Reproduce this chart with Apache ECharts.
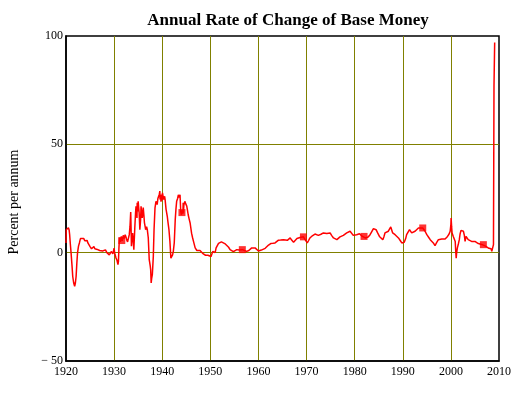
<!DOCTYPE html>
<html>
<head>
<meta charset="utf-8">
<script src="https://cdn.jsdelivr.net/npm/echarts@6/dist/echarts.min.js"></script>
<style>
html,body{margin:0;padding:0;background:#fff;}
#c{width:524px;height:395px;}
</style>
</head>
<body>
<div id="c"></div>
<script>
var title = 'Annual Rate of Change of Base Money';
var yName = 'Percent per annum';
var xTicks = [1920,1930,1940,1950,1960,1970,1980,1990,2000,2010];
var yTickValues = [-50, 0, 50, 100];
var yTickLabels = ['\u2212 50', '0', '50', '100'];

var years = [
1920.00,1920.05,1920.3,1920.5,1920.65,1920.75,1920.9,1921.05,1921.25,1921.4,1921.6,1921.8,1921.95,1922.1,1922.25,1922.4,1922.6,1922.8,
1923.0,1923.2,1923.4,1923.7,1923.9,1924.0,1924.2,1924.4,1924.55,1924.7,1925.0,1925.3,1925.5,1925.8,1926.0,1926.2,1926.5,1926.8,
1927.0,1927.3,1927.6,1927.8,1928.0,1928.2,1928.5,1928.8,1929.0,1929.2,1929.4,1929.6,1929.75,1929.9,1930.0,1930.1,1930.2,1930.4,
1930.6,1930.8,1930.9,1931.0,1931.1,1931.3,1931.5,1931.7,1931.9,1932.1,1932.3,1932.5,1932.6,1932.8,1932.95,1933.15,1933.3,1933.45,
1933.55,1933.6,1933.85,1934.0,1934.1,1934.3,1934.45,1934.55,1934.62,1934.7,1934.75,1934.8,1934.9,1935.0,1935.1,1935.2,1935.35,1935.5,1935.6,1935.75,1935.85,
1936.05,1936.2,1936.3,1936.45,1936.55,1936.75,1936.9,1937.1,1937.3,1937.5,1937.6,1937.7,1937.8,1937.95,1938.15,1938.3,1938.5,1938.7,
1938.95,1939.1,1939.25,1939.4,1939.5,1939.55,1939.65,1939.75,1939.85,1939.95,1940.05,1940.2,1940.3,1940.5,1940.6,1940.8,1941.05,1941.2,1941.4,1941.6,1941.8,
1942.0,1942.15,1942.3,1942.5,1942.7,1942.85,1943.0,1943.2,1943.35,1943.5,1943.7,1943.85,1944.0,1944.15,1944.3,1944.35,1944.4,1944.5,1944.7,1944.9,
1945.1,1945.25,1945.4,1945.6,1945.8,1946.1,1946.3,1946.5,1946.85,1947.2,1947.5,1947.85,1948.2,1948.55,1948.8,1949.0,1949.25,1949.5,
1949.7,1949.9,1950.15,1950.5,1950.7,1951.0,1951.2,1951.45,1951.7,1952.0,1952.3,1952.55,1953.0,1953.4,1953.8,1954.1,1954.5,1954.8,
1955.2,1955.5,1956.0,1956.65,1957.1,1957.55,1958.0,1958.25,1958.6,1958.95,1959.3,1959.6,1960.0,1960.3,1960.6,1961.0,1961.4,1961.7,
1962.1,1962.55,1963.0,1963.45,1963.8,1964.1,1964.6,1965.2,1965.6,1966.0,1966.3,1966.6,1966.9,1967.3,1967.6,1968.0,1968.3,1968.65,
1969.0,1969.35,1969.7,1970.15,1970.4,1970.7,1971.2,1971.75,1972.1,1972.45,1973.0,1973.5,1973.9,1974.2,1974.5,1974.9,1975.2,1975.6,
1976.0,1976.3,1976.6,1976.95,1977.3,1977.65,1978.0,1978.35,1978.7,1979.05,1979.4,1979.7,1980.0,1980.4,1980.7,1981.0,1981.3,1981.6,
1981.95,1982.2,1982.5,1982.8,1983.2,1983.5,1983.9,1984.2,1984.45,1984.8,1985.15,1985.5,1985.85,1986.1,1986.3,1986.7,1987.0,1987.3,
1987.5,1987.7,1987.9,1988.4,1988.7,1989.1,1989.5,1989.8,1990.3,1990.6,1990.8,1991.1,1991.4,1991.85,1992.2,1992.55,1992.9,1993.25,
1993.6,1994.15,1994.6,1995.0,1995.4,1995.7,1996.0,1996.35,1996.7,1997.0,1997.4,1997.8,1998.1,1998.5,1998.8,1999.3,1999.6,1999.85,
2000.0,2000.05,2000.15,2000.25,2000.5,2000.9,2001.0,2001.1,2001.2,2001.35,2001.55,2001.75,2001.9,2002.1,2002.3,2002.6,2002.8,2002.95,
2003.15,2003.35,2003.6,2003.9,2004.3,2004.6,2005.0,2005.3,2005.7,2006.0,2006.4,2006.75,2007.2,2007.6,2007.9,2008.15,2008.35,2008.5,
2008.7,2008.85,2008.96,2009.1
];
var values = [
4.5,10.6,11.2,11.5,10.5,8.5,4,0,-6,-11,-14,-15.5,-14,-11,-5,0,3,4.6,
6.5,7.4,7.0,6.5,5.5,4.6,4.8,5.6,4.5,3.7,2.8,1.8,2.3,2.8,1.8,1.0,1.5,1.8,
1.0,0.5,0.8,0.5,1.0,1.3,0,-0.5,-1.0,-1.4,0.5,1.4,-0.5,-1.0,2.1,0,-1,-2.5,
-3.5,-5.5,-4,2,6.8,5,7.5,5.5,8,6.5,8.3,7,6,5,4.6,8.3,12,18.8,
9,3,9,5,1.4,11.5,18,21.4,17,20,16,23,19,23.7,21,18.5,10.6,15,21.4,18,16,
20.8,17,13.9,12,10.6,12,10.6,6.9,-3.2,-6,-7.9,-14,-12,-10,-1.7,10.6,20.7,23.7,
22.2,25,24.5,27,28.4,24.5,26,23.5,26.8,24,27.6,26.7,24.5,26,24.5,20,16.8,14,10.6,5.2,-2.5,
-3,-1,0.5,4.5,15,20,23.7,25,26.7,25.5,26.7,19,17.5,19.5,18,23,18.5,22,23.7,22.5,
21.5,19.5,17.5,15.5,13.7,9,7,5.2,2.2,1,1.5,1.0,0.5,-0.6,-0.5,-1.2,-2,-1.2,
-1.5,-1.0,-1.8,0.6,0.3,0,2.2,2.9,4.3,5.2,5.0,4.5,4.2,3.7,2.5,1.4,0.8,0.5,
1.0,1.4,1.2,1.4,1.0,0.6,1.0,1.4,2.2,2.5,2.2,1.7,0.8,0.5,1.2,1.7,2.0,2.2,
3.5,4.2,4.3,4.5,5.2,5.7,5.8,6.0,5.8,5.7,6.3,6.8,5.8,4.8,5.5,6.5,6.8,7.0,
7.3,7.3,6.0,4.5,5.5,6.8,7.8,8.6,8.2,8.0,8.5,9.1,8.6,8.8,9.0,9.1,8.0,6.8,
6.5,6.0,6.8,7.3,7.6,8.0,8.6,9.1,9.5,9.9,9.0,8.0,8.2,8.3,8.5,8.7,8.0,7.5,
7.5,6.8,6.5,7.2,8.3,9.5,11.1,10.8,10.6,9.0,7.5,6.8,6.0,7.5,9.1,9.5,9.9,10.5,
11.9,10.5,9.1,8.3,7.5,6.8,5.5,4.5,4.8,6.5,8.3,9.5,10.6,9.1,9.5,9.9,10.5,11.4,
11.2,11.4,10.0,8.3,7.0,6.0,5.2,4.5,3.2,4.5,6.0,6.2,6.3,6.0,6.3,7.5,8.5,9.9,
13,16,12,9.1,7.5,5.2,1,-2.5,0,2.2,4,6,8.5,10.3,9.5,9.9,8,5.2,
7.5,6.8,6.0,5.8,5.2,5.5,5.2,4.8,4.2,4.0,3.8,3.7,3.0,2.2,2.0,1.4,1.8,0.6,
1.2,3.7,77,97
];
var markerYears = [1931.6, 1944.1, 1956.65, 1969.35, 1981.95, 1994.15, 2006.75];
var markerValues = [5.6, 18.5, 1.4, 7.3, 7.5, 11.4, 3.7];

var lineData = years.map(function (y, i) { return [y, values[i]]; });
var markerData = markerYears.map(function (y, i) { return [y, markerValues[i]]; });

var serif = '"Liberation Serif", "Times New Roman", serif';
var olive = 'rgb(128,128,0)';
var chart = echarts.init(document.getElementById('c'), null, {renderer: 'canvas'});
chart.setOption({
  animation: false,
  backgroundColor: '#fff',
  title: {
    text: title,
    left: 283, textAlign: 'center', top: 7,
    textStyle: {fontFamily: serif, fontSize: 17, fontWeight: 'bold', color: '#000'}
  },
  graphic: [{
    type: 'text', x: 14, y: 202, rotation: Math.PI / 2,
    style: {text: yName, fontFamily: serif, fontSize: 14, fill: '#000', align: 'center', verticalAlign: 'middle'}
  }],
  grid: {left: 66, right: 25, top: 36, bottom: 34, show: true, borderColor: '#000', borderWidth: 1.5, backgroundColor: 'transparent'},
  xAxis: {
    type: 'value', min: 1920, max: 2010, interval: 10,
    axisLine: {show: true, onZero: false, lineStyle: {color: '#000', width: 1.5}},
    axisTick: {show: false},
    axisLabel: {fontFamily: serif, fontSize: 12, color: '#000', margin: 5,
      formatter: function (v) { return xTicks.indexOf(v) >= 0 ? String(v) : ''; }},
    splitLine: {show: true, showMinLine: false, showMaxLine: false, lineStyle: {color: [olive], width: 1, type: 'solid'}}
  },
  yAxis: {
    type: 'value', min: -50, max: 100, interval: 50,
    axisLine: {show: true, onZero: false, lineStyle: {color: '#000', width: 1.5}},
    axisTick: {show: false},
    axisLabel: {fontFamily: serif, fontSize: 12, color: '#000', margin: 3,
      formatter: function (v) { var k = yTickValues.indexOf(v); return k >= 0 ? yTickLabels[k] : ''; }},
    splitLine: {show: true, showMinLine: false, showMaxLine: false, lineStyle: {color: [olive], width: 1, type: 'solid'}}
  },
  series: [
    {type: 'line', data: lineData, showSymbol: false, symbol: 'none',
     lineStyle: {color: '#ff0000', width: 1.5}, itemStyle: {color: '#ff0000'}, z: 3},
    {type: 'scatter', data: markerData, symbol: 'rect', symbolSize: 7,
     itemStyle: {color: '#ff0000'}, z: 4}
  ]
});
</script>
</body>
</html>
